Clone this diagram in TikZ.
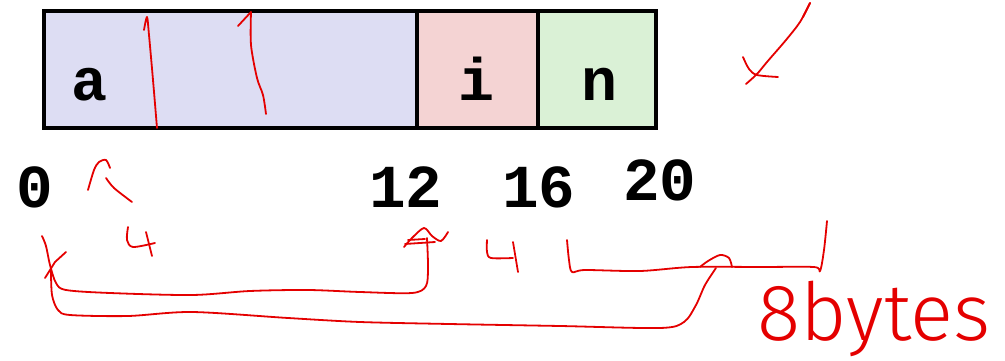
\documentclass[tikz,border=0pt]{standalone}
\usepackage{fontspec}
\newfontfamily\monofont{Liberation Mono}
\newfontfamily\handfont{Fira Sans Light}
\definecolor{afill}{RGB}{221,221,243}
\definecolor{ifill}{RGB}{244,211,211}
\definecolor{nfill}{RGB}{218,241,214}
\definecolor{penred}{RGB}{228,0,0}
\begin{document}
\begin{tikzpicture}[x=1pt,y=-1pt,
  pen/.style={draw=penred, line width=1.8pt, line cap=round, line join=round},
  field/.style={font=\monofont\bfseries\fontsize{60}{60}\selectfont, anchor=base, inner sep=0pt},
  offset/.style={font=\monofont\bfseries\fontsize{61}{61}\selectfont, anchor=base, inner sep=0pt},
  boxline/.style={draw=black, line width=4.5pt}
]
\useasboundingbox (0,0) rectangle (1005,361);
% boxes
\fill[afill] (44,11) rectangle (417,128);
\fill[ifill] (417,11) rectangle (538,128);
\fill[nfill] (538,11) rectangle (656,128);
\draw[boxline] (44,11) rectangle (656,128);
\draw[boxline] (417,11) -- (417,128);
\draw[boxline] (538,11) -- (538,128);
% field names
\node[field] (fa) at (90,100) {a};
\node[field] (fi) at (476,100) {i};
\node[field] (fn) at (599,100) {n};
% offsets
\node[offset] (o0) at (35,207) {0};
\node[offset] (o12) at (406,207) {12};
\node[offset] (o16) at (539,207) {16};
\node[offset] (o20) at (660,200) {20};
% red annotations
\draw[pen] plot[smooth] coordinates {(157,128) (153,80) (149,35) (147,17) (144,30)};
\draw[pen] plot[smooth] coordinates {(266,114) (263,95) (257,78) (251,45) (251,12)};
\draw[pen] (251,12) -- (238,26);
\draw[pen] plot[smooth] coordinates {(88,190) (94,170) (99,162) (106,160) (110,168)};
\draw[pen] plot[smooth] coordinates {(106,178) (114,188) (132,202)};
% first 4
\draw[pen] plot[smooth] coordinates {(128,227) (127,240) (133,247) (155,243)};
\draw[pen] (146,232) -- (152,256);
% bracket 0..12
\draw[pen] plot[smooth] coordinates {(42,236) (46,246) (50,265) (56,283) (66,290) (110,293) (192,295) (250,291) (308,290) (360,292) (412,293) (426,286) (428,267) (427,238)};
\draw[pen] (45,278) -- (55,262) -- (66,252);
% scribble at 12
\draw[pen] plot[smooth] coordinates {(404,247) (412,238) (424,228) (432,236) (441,241) (448,232)};
\draw[pen] (405,244) -- (435,242);
\draw[pen] (408,240) -- (425,239);
% bracket 0..far
\draw[pen] plot[smooth] coordinates {(51,270) (52,295) (58,310) (70,315) (128,316) (192,312) (288,318) (360,322) (449,324) (560,326) (660,328) (684,322) (696,305) (705,285) (716,268)};
\draw[pen] plot[smooth] coordinates {(700,267) (708,261) (720,255) (729,258) (732,267)};
% second 4
\draw[pen] plot[smooth] coordinates {(487,240) (487,252) (491,258) (513,258)};
\draw[pen] (513,242) -- (518,272);
% bracket 16..20
\draw[pen] plot[smooth] coordinates {(567,240) (569,260) (572,272) (585,270) (640,271) (692,267) (760,267) (814,267) (820,271) (824,250) (827,221)};
% 8bytes
\node[font=\handfont\fontsize{80}{80}\selectfont, text=penred, anchor=base west, inner sep=0pt] (bytes) at (757,340) {8bytes};
% check mark
\draw[pen] plot[smooth] coordinates {(810,3) (800,22) (786,40) (767,62) (757,74) (746,84)};
\draw[pen] (810,3) -- (803,17);
\draw[pen] plot[smooth] coordinates {(743,57) (749,69) (757,75) (778,77)};
\end{tikzpicture}
\end{document}
